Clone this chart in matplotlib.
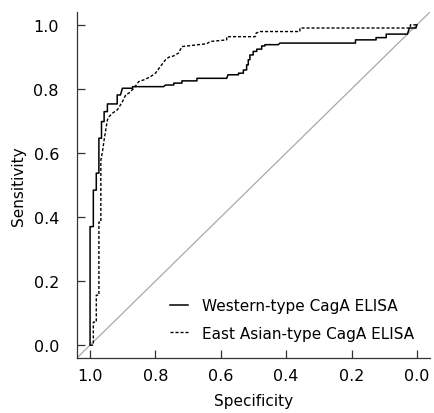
import matplotlib

matplotlib.use("Agg")
import matplotlib.pyplot as plt

# ROC vertices: (specificity, sensitivity)
western_spec = [
    1.000, 1.000, 0.990, 0.990, 0.981, 0.981, 0.973, 0.973, 0.965, 0.965,
    0.957, 0.957, 0.947, 0.947, 0.917, 0.917, 0.907, 0.901, 0.870, 0.870,
    0.775, 0.769, 0.744, 0.744, 0.719, 0.719, 0.673, 0.673, 0.582, 0.578,
    0.546, 0.546, 0.531, 0.531, 0.521, 0.521, 0.516, 0.516, 0.511, 0.511,
    0.501, 0.501, 0.490, 0.490, 0.475, 0.475, 0.465, 0.465, 0.424, 0.419,
    0.188, 0.188, 0.125, 0.125, 0.094, 0.094, 0.029, 0.023, 0.003, 0.000,
]
western_sens = [
    0.000, 0.370, 0.370, 0.484, 0.484, 0.537, 0.537, 0.646, 0.646, 0.698,
    0.698, 0.729, 0.729, 0.753, 0.753, 0.781, 0.781, 0.802, 0.802, 0.807,
    0.807, 0.812, 0.812, 0.818, 0.818, 0.825, 0.825, 0.833, 0.833, 0.844,
    0.844, 0.849, 0.849, 0.859, 0.859, 0.875, 0.875, 0.891, 0.891, 0.906,
    0.906, 0.917, 0.917, 0.924, 0.924, 0.934, 0.934, 0.938, 0.938, 0.943,
    0.943, 0.953, 0.953, 0.960, 0.960, 0.971, 0.971, 0.990, 0.990, 1.000,
]

east_asian_spec = [
    1.000, 0.990, 0.990, 0.981, 0.981, 0.973, 0.973, 0.967, 0.967, 0.962,
    0.957, 0.952, 0.947, 0.942, 0.932, 0.917, 0.907, 0.901, 0.896, 0.891,
    0.881, 0.876, 0.866, 0.851, 0.836, 0.815, 0.800, 0.785, 0.769, 0.759,
    0.744, 0.729, 0.724, 0.719, 0.703, 0.643, 0.632, 0.582, 0.582, 0.495,
    0.492, 0.480, 0.358, 0.358, 0.020, 0.020, 0.000,
]
east_asian_sens = [
    0.000, 0.000, 0.072, 0.072, 0.156, 0.156, 0.384, 0.384, 0.578, 0.604,
    0.641, 0.672, 0.703, 0.713, 0.724, 0.734, 0.750, 0.760, 0.771, 0.781,
    0.787, 0.792, 0.802, 0.823, 0.828, 0.838, 0.849, 0.870, 0.891, 0.899,
    0.903, 0.912, 0.922, 0.932, 0.934, 0.941, 0.948, 0.953, 0.963, 0.963,
    0.974, 0.979, 0.979, 0.990, 0.990, 1.000, 1.000,
]

tick_values = [1.0, 0.8, 0.6, 0.4, 0.2, 0.0]
series_labels = ["Western-type CagA ELISA", "East Asian-type CagA ELISA"]


def main() -> None:
    plt.rcParams["font.family"] = ["DejaVu Sans"]
    plt.rcParams["font.size"] = 11

    fig = plt.figure(figsize=(4.35, 4.14), dpi=100)
    ax = fig.add_axes([0.177, 0.1329, 0.8115, 0.8357])

    # chance diagonal, corner to corner
    ax.axline((1.0, 0.0), (0.0, 1.0), color="#a9a9a9", linewidth=0.9, zorder=1)

    ax.plot(western_spec, western_sens, color="black", linewidth=1.1,
            label=series_labels[0], zorder=3)
    ax.plot(east_asian_spec, east_asian_sens, color="black", linewidth=1.0,
            linestyle=(0, (2.2, 1.4)), label=series_labels[1], zorder=2)

    ax.set_xlim(1.04, -0.04)
    ax.set_ylim(-0.04, 1.04)
    ax.set_xticks(tick_values)
    ax.set_yticks(tick_values)
    ax.set_xticklabels([f"{v:.1f}" for v in tick_values])
    ax.set_yticklabels([f"{v:.1f}" for v in tick_values])

    for side in ["top", "right"]:
        ax.spines[side].set_visible(False)
    for side in ["left", "bottom"]:
        ax.spines[side].set_linewidth(0.9)
        ax.spines[side].set_color("#333333")

    ax.tick_params(axis="both", direction="in", length=5.5, width=0.9,
                   color="#333333", labelsize=11.5)
    ax.tick_params(axis="y", pad=13)
    ax.tick_params(axis="x", pad=7.5)

    ax.set_xlabel("Specificity", fontsize=11, labelpad=7)
    ax.set_ylabel("Sensitivity", fontsize=11, labelpad=5.5)

    fig.legend(
        loc="upper left",
        bbox_to_anchor=(0.3908, 0.277),
        bbox_transform=fig.transFigure,
        frameon=False,
        borderpad=0,
        borderaxespad=0,
        handlelength=1.2,
        handletextpad=0.9,
        labelspacing=0.8,
        fontsize=11,
    )

    fig.savefig("out.png", dpi=100)


if __name__ == "__main__":
    main()
